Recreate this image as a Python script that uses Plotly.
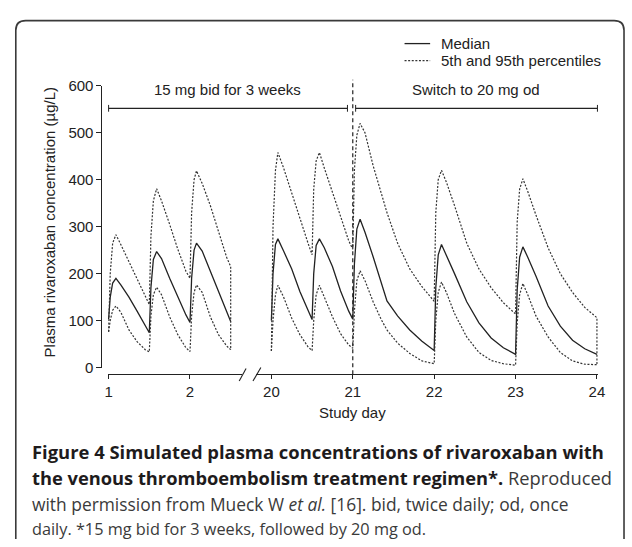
import plotly.graph_objects as go

W, H = 632, 547

# ---------------- data ----------------
# Days 1-2.5: 15 mg bid
days_a = [1.00, 1.02, 1.05, 1.09, 1.15, 1.25, 1.35, 1.45, 1.50,
          1.52, 1.55, 1.59, 1.65, 1.75, 1.85, 1.95, 2.00,
          2.02, 2.05, 2.08, 2.15, 2.25, 2.35, 2.45, 2.50]
median_a = [103, 150, 180, 190, 176, 150, 120, 88, 74,
            170, 230, 247, 232, 190, 150, 112, 96,
            190, 250, 265, 248, 205, 163, 120, 98]
p95_a = [76, 200, 265, 283, 262, 225, 188, 150, 134,
         280, 355, 381, 355, 305, 252, 205, 190,
         330, 400, 419, 392, 345, 288, 235, 215]
p5_a = [76, 100, 122, 131, 118, 80, 55, 38, 33,
        110, 155, 171, 155, 108, 70, 42, 34,
        110, 160, 176, 160, 108, 70, 46, 38]

# Days 20-24: bid until day 21, then 20 mg od
days_b = [20.00, 20.02, 20.05, 20.08, 20.15, 20.25, 20.35, 20.45, 20.50,
          20.52, 20.55, 20.59, 20.65, 20.75, 20.85, 20.95, 21.00,
          21.02, 21.05, 21.09, 21.15, 21.25, 21.35, 21.42, 21.55, 21.70, 21.85, 22.00,
          22.02, 22.05, 22.09, 22.15, 22.25, 22.40, 22.55, 22.70, 22.85, 23.00,
          23.02, 23.05, 23.09, 23.15, 23.25, 23.40, 23.55, 23.70, 23.85, 24.00]
median_b = [100, 200, 262, 274, 248, 210, 162, 120, 102,
            200, 260, 274, 255, 215, 163, 120, 103,
            220, 295, 316, 288, 236, 180, 142, 110, 80, 56, 36,
            170, 240, 262, 240, 200, 140, 95, 63, 42, 28,
            165, 235, 257, 235, 195, 131, 88, 58, 40, 28]
p95_b = [35, 300, 420, 458, 425, 370, 320, 265, 240,
         380, 440, 458, 425, 375, 322, 270, 252,
         420, 495, 520, 500, 430, 370, 330, 265, 210, 172, 141,
         330, 400, 420, 395, 345, 265, 210, 170, 138, 114,
         310, 380, 402, 375, 325, 255, 200, 160, 128, 106]
p5_b = [35, 100, 155, 175, 150, 105, 70, 44, 36,
        100, 155, 175, 150, 108, 72, 48, 41,
        120, 185, 206, 185, 140, 102, 80, 52, 30, 14, 8,
        100, 160, 182, 160, 115, 65, 32, 15, 8, 5,
        95, 155, 179, 155, 110, 65, 32, 14, 7, 6]

ticks_a = [1, 2]
ticks_b = [20, 21, 22, 23, 24]
ticks_y = [0, 100, 200, 300, 400, 500, 600]
switch_day = 21

label_bid = "15 mg bid for 3 weeks"
label_od = "Switch to 20 mg od"
name_median = "Median"
name_pct = "5th and 95th percentiles"
x_title = "Study day"
y_title = "Plasma rivaroxaban concentration (µg/L)"

# ---------------- helpers (pixel -> paper) ----------------
def px(x):
    return x / W

def py(y):
    return 1 - y / H

INK = "#222222"
FONT = "Liberation Sans, Arial, sans-serif"
FS = 15
solid = dict(color=INK, width=1.3)
dotted = dict(color="#333333", width=1.2, dash="2px,1.6px")

fig = go.Figure()

for xa, days, med, hi, lo in [("x", days_a, median_a, p95_a, p5_a),
                              ("x2", days_b, median_b, p95_b, p5_b)]:
    fig.add_trace(go.Scatter(x=days, y=med, mode="lines", line=solid, xaxis=xa, yaxis="y",
                             name=name_median, showlegend=False))
    fig.add_trace(go.Scatter(x=days + [days[-1]], y=hi + [lo[-1]], mode="lines", line=dotted,
                             xaxis=xa, yaxis="y", name=name_pct, showlegend=False))
    fig.add_trace(go.Scatter(x=days, y=lo, mode="lines", line=dotted, xaxis=xa, yaxis="y",
                             name=name_pct, showlegend=False))

DAYPX = 82.7
x_day1 = 107.3
x_day20 = 272.7
ax_y = 377

left_px = (106.3, 243.0)
right_px = (257.0, 604.5)
xr_a = [1 + (left_px[0] - x_day1) / DAYPX, 1 + (left_px[1] - x_day1) / DAYPX]
xr_b = [20 + (right_px[0] - x_day20) / DAYPX, 20 + (right_px[1] - x_day20) / DAYPX]

axis_common = dict(showgrid=False, zeroline=False, showline=True, linecolor=INK, linewidth=1,
                   ticks="outside", ticklen=4, tickwidth=1, tickcolor=INK,
                   tickfont=dict(family=FONT, size=FS, color=INK))

fig.update_layout(
    margin=dict(l=0, r=0, t=0, b=0),
    paper_bgcolor="white", plot_bgcolor="rgba(0,0,0,0)",
    font=dict(family=FONT, size=FS, color=INK),
    xaxis=dict(domain=[px(left_px[0]), px(left_px[1])], range=xr_a, anchor="free",
               position=py(ax_y), tickvals=ticks_a, **axis_common),
    xaxis2=dict(domain=[px(right_px[0]), px(right_px[1])], range=xr_b, anchor="free",
                position=py(ax_y), tickvals=ticks_b, **axis_common),
    yaxis=dict(domain=[py(370), py(79.3)], range=[0, 600], anchor="free", position=px(100),
               tickvals=ticks_y, **{**axis_common, "ticklen": 5}),
    showlegend=False,
)

shapes = []
# vertical dashed line at regimen switch
shapes.append(dict(type="line", xref="x2", yref="paper", x0=switch_day, x1=switch_day,
                   y0=py(ax_y), y1=py(73), line=dict(color=INK, width=1.2, dash="4px,3px")))
# regimen brackets
by = 102.5
for a, b in [(107.3, 350.0), (358.3, 604.0)]:
    shapes.append(dict(type="line", xref="paper", yref="paper", x0=px(a), x1=px(b),
                       y0=py(by), y1=py(by), line=dict(color=INK, width=1.2)))
    for c in (a, b):
        shapes.append(dict(type="line", xref="paper", yref="paper", x0=px(c), x1=px(c),
                           y0=py(by - 3.5), y1=py(by + 3.5), line=dict(color=INK, width=1)))
# axis break marks
for (xa0, ya0, xa1, ya1) in [(240, 384, 247, 371), (254, 384, 262, 370)]:
    shapes.append(dict(type="line", xref="paper", yref="paper", x0=px(xa0), y0=py(ya0),
                       x1=px(xa1), y1=py(ya1), line=dict(color=INK, width=1.1)))
# legend samples
shapes.append(dict(type="line", xref="paper", yref="paper", x0=px(408), x1=px(434),
                   y0=py(35.7), y1=py(35.7), line=solid))
shapes.append(dict(type="line", xref="paper", yref="paper", x0=px(408), x1=px(434),
                   y0=py(53.3), y1=py(53.3), line=dotted))
# rounded frame
path = (f"M {px(13)},{py(547)} L {px(13)},{py(22)} Q {px(13)},{py(12)} {px(23)},{py(12)} "
        f"L {px(621)},{py(12)} Q {px(631)},{py(12)} {px(631)},{py(22)} L {px(631)},{py(547)}")
shapes.append(dict(type="path", xref="paper", yref="paper", path=path,
                   line=dict(color="#3a3a3a", width=1.6)))
fig.update_layout(shapes=shapes)

ann = []
def txt(t, x, y, size=FS, xanchor="center", **kw):
    d = dict(text=t, xref="paper", yref="paper", x=px(x), y=py(y), showarrow=False,
             xanchor=xanchor, yanchor="middle",
             font=dict(family=FONT, size=size, color=INK))
    d.update(kw)
    ann.append(d)

txt(label_bid, 228, 83)
txt(label_od, 480.5, 83)
txt(x_title, 355.5, 416)
txt(y_title, 47, 220, textangle=-90)
txt(name_median, 443, 35.5, xanchor="left")
txt(name_pct, 443, 53.5, xanchor="left")

CAP = "Open Sans, Noto Sans, sans-serif"
BOLD = "<span style='color:#1e1b1c'><b>{}</b></span>"
cap_lines = [
    (BOLD.format("Figure 4 Simulated plasma concentrations of rivaroxaban with"), 18.4),
    (BOLD.format("the venous thromboembolism treatment regimen*.") + " Reproduced", 18.3),
    ("with permission from Mueck W <i>et al.</i> [16]. bid, twice daily; od, once", 17.4),
    ("daily. *15 mg bid for 3 weeks, followed by 20 mg od.", 16.3),
]
cap_y = [457, 484, 511, 537]
for (t, s), yy in zip(cap_lines, cap_y):
    ann.append(dict(text=t, xref="paper", yref="paper", x=px(27), y=py(yy), xanchor="left",
                    yanchor="middle", showarrow=False, align="left",
                    font=dict(family=CAP, size=s, color="#3a3a3a")))
fig.update_layout(annotations=ann)

fig.write_html("out.html", config={"displayModeBar": False},
               default_width=f"{W}px",
               default_height=f"{H}px; position:absolute; top:0; left:0")
